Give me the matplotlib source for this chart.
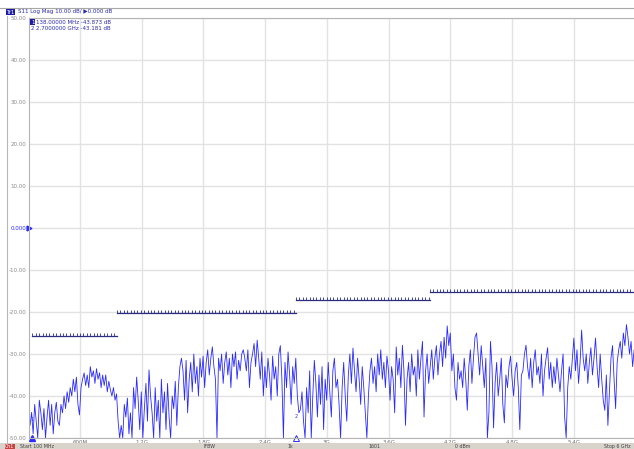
import numpy as np
import matplotlib.pyplot as plt
from matplotlib.lines import Line2D
from matplotlib.patches import Rectangle

s11 = [
    -45, -47, -43.9, -49, -42, -46, -50, -41, -44, -48, -43, -50, -45, -41, -47, -42, -49, -44, -41.5, -46,
    -47, -42, -44, -40, -43, -39, -41.5, -38, -40, -36, -39, -35.5, -42, -44.5, -38, -36, -34.5, -37.5, -35, -38,
    -33, -35.5, -34, -37, -33.5, -36, -34.5, -38, -35, -37.5, -35, -39, -36.5, -38.5, -40, -38, -41, -39.5, -46, -50,
    -47, -50, -42, -45, -40.5, -49, -44, -50, -38, -43, -35.5, -41, -48, -39, -50, -43, -37, -46, -33.8, -40,
    -44, -50, -38, -46, -41, -50, -36, -44, -39, -48, -37, -45, -50, -40, -43, -36.5, -47, -38, -33, -31,
    -34, -41, -31.5, -44, -36, -32, -39, -30, -37, -33, -40, -31, -35.5, -30.5, -38, -32, -29, -35, -31, -28.3,
    -33, -36, -50, -31, -34, -30, -37, -32, -29.5, -35, -31, -38, -30, -33, -29.5, -36, -31.5, -34, -30, -29,
    -31, -34, -29, -38, -32, -30, -27.5, -33, -26.7, -31, -36, -29.5, -40, -33, -38, -31, -35, -41, -30.5, -36,
    -33, -40, -30, -28, -36, -50, -32, -38, -29.5, -35, -42, -33, -37, -31, -40, -44, -43.2, -39, -46, -50,
    -38, -44, -34, -50, -40, -31.5, -37, -45, -35, -42, -33, -48, -36, -41, -32, -39, -45, -34, -31, -38,
    -36, -42, -50, -38, -32, -40, -46, -35, -30, -37, -28.6, -34, -39, -31, -36, -42, -33, -38, -44, -50,
    -40, -34, -31, -37, -33, -39, -30, -35, -29, -36, -32, -38, -30.5, -34, -41, -33, -36, -44, -28.3, -35,
    -31, -38, -27.9, -34, -47, -36, -32, -39, -30, -35, -33, -40, -29, -36, -31, -27, -45, -34, -30, -37,
    -33, -29, -36, -31, -28, -35, -30, -27, -33, -26, -31, -23.3, -28, -25, -34, -30, -38, -41, -32, -36,
    -34, -38, -31, -36, -43.4, -33, -29, -37, -31, -26, -25, -30, -35, -28, -33, -38, -31, -50, -44, -27,
    -33, -47.6, -37, -32, -40, -36, -31, -42, -46.4, -35, -38, -33, -30.5, -36, -40, -34, -32, -38, -48, -35,
    -34, -30, -27.9, -33, -36, -31, -38, -32, -29, -35, -33, -37, -30, -40, -34, -31, -28.5, -36, -32, -38,
    -33, -37, -31, -35, -39, -34, -30, -45, -50, -38, -33, -36, -31, -26.2, -34, -29, -37, -32, -24.3, -31,
    -34, -30, -37, -32, -28.5, -35, -31, -26.2, -33, -38, -30, -36, -41, -43.4, -35, -47, -39, -31, -28, -36,
    -43, -32, -29, -27, -31, -25, -28, -23, -26, -30, -27, -33, -29, -31,
]
f_start, f_stop = 100, 6000  # MHz
freq = np.linspace(f_start, f_stop, len(s11))

# limit line segments (MHz, dB)
lim_start = [138, 960, 2700, 4000]
lim_stop = [960, 2700, 4000, 6000]
lim_val = [-25.7, -20.3, -17.2, -15.2]

# markers
mk_num = ['1', '2']
mk_freq = [138, 2700]
mk_val = [-43.873, -43.181]
mk_text = ['138.00000 MHz -43.873 dB', '2.7000000 GHz -43.181 dB']

x_ticks = [600, 1200, 1800, 2400, 3000, 3600, 4200, 4800, 5400]
x_labels = ['600M', '1.2G', '1.8G', '2.4G', '3G', '3.6G', '4.2G', '4.8G', '5.4G']
y_ticks = [-50, -40, -30, -20, -10, 0, 10, 20, 30, 40, 50]
y_labels = ['-50.00', '-40.00', '-30.00', '-20.00', '-10.00', '0.000',
            '10.00', '20.00', '30.00', '40.00', '50.00']

W, H = 634, 449
def fx(px):
    return px / W
def fy(py):
    return 1 - py / H

blue = '#2a2aff'
navy = '#2c2c80'
grey_txt = '#8a8a8a'

fig = plt.figure(figsize=(W / 100, H / 100), dpi=100)
fig.patch.set_facecolor('white')
ax = fig.add_axes([fx(28.5), fy(438), (635.7 - 28.5) / W, 420 / H])
ax.set_xlim(f_start, f_stop)
ax.set_ylim(-50, 50)

ax.set_xticks(x_ticks)
ax.set_xticklabels(x_labels)
ax.set_yticks(y_ticks)
ax.set_yticklabels(y_labels)
ax.tick_params(length=0, labelsize=4, colors='#707070', pad=1.5)
for lab in ax.get_yticklabels():
    lab.set_color(grey_txt)
ax.get_yticklabels()[5].set_color(blue)
ax.grid(True, color='#e2e2e2', lw=1.0)
ax.set_axisbelow(True)
for s in ['left', 'top', 'bottom']:
    ax.spines[s].set_color('#b4b4b4')
    ax.spines[s].set_linewidth(0.8)
ax.spines['right'].set_visible(False)

# trace
ax.plot(freq, s11, color=blue, lw=0.6)

# limit lines with little ticks
for a, b, v in zip(lim_start, lim_stop, lim_val):
    ax.plot([a, b], [v, v], color=navy, lw=0.9)
    tk = np.arange(a, b, 33.0)
    ax.plot(tk, [v] * len(tk), linestyle='none', marker=2, ms=2.0,
            mew=0.6, color=navy)

# reference level arrow
ax.plot(f_start, 0, marker='>', ms=3.5, color=blue, clip_on=False)

# stimulus markers at the bottom
ax.plot(mk_freq[0], -50, marker='^', ms=4, color=blue, clip_on=False)
ax.plot(mk_freq[1], -50, marker='^', ms=4, mfc='white', mec=blue,
        mew=0.7, clip_on=False)
for n, f, v in zip(mk_num, mk_freq, mk_val):
    ax.text(f, v - 1.2, n, fontsize=3.5, color=blue, ha='center', va='top')

# marker readout
for i, (n, t) in enumerate(zip(mk_num, mk_text)):
    yy = fy(22 + 7 * i)
    if i == 0:
        fig.text(fx(31), yy, n, fontsize=4, color='white', va='center',
                 bbox=dict(facecolor='#1c1ca8', edgecolor='none', pad=0.4))
    else:
        fig.text(fx(31), yy, n, fontsize=4, color='#2828b0', va='center')
    fig.text(fx(36), yy, t, fontsize=4, color='#2828b0', va='center')

# header
fig.add_artist(Line2D([0, 1], [fy(8), fy(8)], color='#a8a8a8', lw=0.8))
fig.add_artist(Line2D([fx(7), fx(7)], [fy(16), fy(443)], color='#b8b8b8', lw=0.8))
fig.text(fx(6.5), fy(12), 'Tr1', fontsize=4, color='white', va='center',
         bbox=dict(facecolor='#1c1ca8', edgecolor='none', pad=0.5))
fig.text(fx(18), fy(12), 'S11 Log Mag 10.00 dB/ \u25b60.000 dB', fontsize=4,
         color='#2828b0', va='center')

# status bar
fig.add_artist(Rectangle((0, 0), 1, fy(443), transform=fig.transFigure,
                         facecolor='#d8d4cc', edgecolor='none'))
fig.text(fx(5), fy(446.5), 'Ch1', fontsize=3.4, color='white', va='center',
         bbox=dict(facecolor='#c84040', edgecolor='none', pad=0.3))
status = [(20, 'Start 100 MHz'), (203, 'IFBW'), (287, '1k'), (368, '1601'),
          (455, '0 dBm'), (604, 'Stop 6 GHz')]
for x0, t in status:
    fig.text(fx(x0), fy(446.5), t, fontsize=3.4, color='#404040', va='center')

fig.savefig('out.png', dpi=100)
